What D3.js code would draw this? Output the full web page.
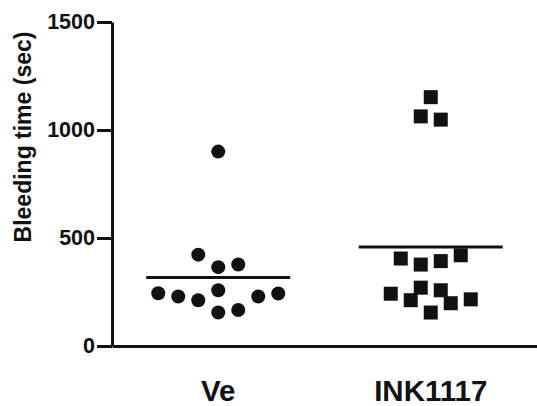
<!DOCTYPE html>
<html><head><meta charset="utf-8">
<script src="https://cdn.jsdelivr.net/npm/d3@7"></script>
<style>body{margin:0;background:#fff}svg{display:block}text{font-family:"Liberation Sans",Arial,sans-serif;font-weight:bold;fill:#111}</style>
</head><body>
<script>
const categories = ["Ve", "INK1117"];
const veValues = [900, 423, 365, 377, 244, 229, 212, 258, 155, 167, 229, 243];
const veSlots  = [0, -1, 0, 1, -3, -2, -1, 0, 0, 1, 2, 3];
const inkValues = [1152, 1063, 1048, 405, 377, 393, 420, 242, 212, 270, 258, 198, 216, 155];
const inkSlots  = [0, -0.5, 0.5, -1.5, -0.5, 0.5, 1.5, -2, -1, -0.5, 0.5, 1, 2, 0];
const yTicks = [0, 500, 1000, 1500];
const yLabel = "Bleeding time (sec)";

const W = 537, H = 406;
const svg = d3.select("body").append("svg").attr("width", W).attr("height", H);
const x = d3.scaleBand().domain(categories).range([112, 537]);
const y = d3.scaleLinear().domain([0, 1500]).range([346, 22]);
const step = 20, ink = "#111";

const gy = svg.append("g").attr("transform", "translate(112,0)")
  .call(d3.axisLeft(y).tickValues(yTicks).tickFormat(d3.format("d")).tickSize(15).tickSizeOuter(0).tickPadding(2));
gy.selectAll("path,line").attr("stroke", ink).attr("stroke-width", 3);
gy.selectAll("text").style("font-size", "21.5px").attr("fill", ink);

const gx = svg.append("g").attr("transform", `translate(0,${y(0)})`)
  .call(d3.axisBottom(x).tickSize(0).tickSizeOuter(0).tickPadding(34));
gx.select("path").attr("stroke", ink).attr("stroke-width", 3);
gx.selectAll("text").style("font-size", "29.5px").attr("fill", ink);

svg.append("text").attr("transform", `translate(31,${(27+247)/2}) rotate(-90)`)
  .attr("text-anchor", "middle").style("font-size", "23px").text(yLabel);

const cx = (c, s) => x(c) + x.bandwidth() / 2 + s * step;

svg.append("g").selectAll("circle").data(veValues).join("circle")
  .attr("cx", (d, i) => cx("Ve", veSlots[i])).attr("cy", d => y(d)).attr("r", 7).attr("fill", ink);

svg.append("g").selectAll("rect").data(inkValues).join("rect")
  .attr("x", (d, i) => cx("INK1117", inkSlots[i]) - 7).attr("y", d => y(d) - 7)
  .attr("width", 14).attr("height", 14).attr("fill", ink);

[["Ve", veValues], ["INK1117", inkValues]].forEach(([c, vals]) => {
  const m = d3.mean(vals), c0 = x(c) + x.bandwidth() / 2;
  svg.append("line").attr("x1", c0 - 72).attr("x2", c0 + 72)
    .attr("y1", y(m)).attr("y2", y(m)).attr("stroke", ink).attr("stroke-width", 3);
});
</script>
</body></html>
